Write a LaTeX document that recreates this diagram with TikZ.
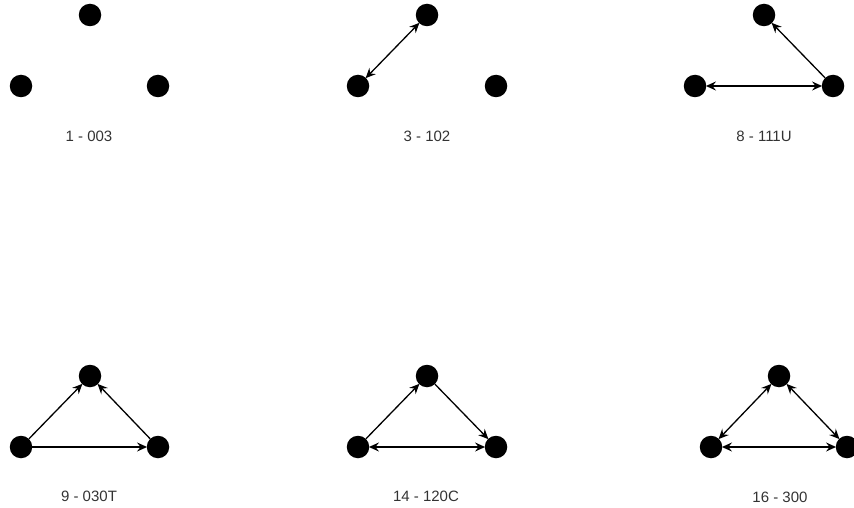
\documentclass[tikz,border=0pt]{standalone}
\usepackage{fontspec}
\setmainfont{Liberation Sans}
\usetikzlibrary{arrows.meta}
\tikzset{
  dot/.style={circle,fill=black,minimum size=22.5pt,inner sep=0pt},
  lbl/.style={font=\fontsize{15}{17}\selectfont,text=black!80,inner sep=0pt},
  tip/.tip={Stealth[length=10pt,width=9pt,inset=3.5pt]},
  edge/.style={line width=1.3pt,-tip,shorten >=-0.5pt},
  bedge/.style={line width=1.3pt,tip-tip,shorten >=-0.5pt,shorten <=-0.5pt}
}
\begin{document}
\begin{tikzpicture}[x=1pt,y=-1pt]
\useasboundingbox (0,0) rectangle (854,508);
% group 1
\node[dot] (a1) at (90,15) {};
\node[dot] (b1) at (21,86) {};
\node[dot] (c1) at (158,86) {};
\node[lbl] (l1) at (89,136) {1 - 003};
% group 2
\node[dot] (a2) at (427,15) {};
\node[dot] (b2) at (358,86) {};
\node[dot] (c2) at (496,86) {};
\node[lbl] (l2) at (427,136) {3 - 102};
\draw[bedge] (b2) -- (a2);
% group 3
\node[dot] (a3) at (764,15) {};
\node[dot] (b3) at (695,86) {};
\node[dot] (c3) at (833,86) {};
\node[lbl] (l3) at (764,136) {8 - 111U};
\draw[edge] (c3) -- (a3);
\draw[bedge] (b3) -- (c3);
% group 4
\node[dot] (a4) at (90,376) {};
\node[dot] (b4) at (21,447) {};
\node[dot] (c4) at (158,447) {};
\node[lbl] (l4) at (89,496) {9 - 030T};
\draw[edge] (b4) -- (a4);
\draw[edge] (c4) -- (a4);
\draw[edge] (b4) -- (c4);
% group 5
\node[dot] (a5) at (427,376) {};
\node[dot] (b5) at (358,447) {};
\node[dot] (c5) at (496,447) {};
\node[lbl] (l5) at (426,496) {14 - 120C};
\draw[edge] (b5) -- (a5);
\draw[edge] (a5) -- (c5);
\draw[bedge] (b5) -- (c5);
% group 6
\node[dot] (a6) at (779,376) {};
\node[dot] (b6) at (711,447) {};
\node[dot] (c6) at (847,447) {};
\node[lbl] (l6) at (780,497) {16 - 300};
\draw[bedge] (b6) -- (a6);
\draw[bedge] (a6) -- (c6);
\draw[bedge] (b6) -- (c6);
\end{tikzpicture}
\end{document}
